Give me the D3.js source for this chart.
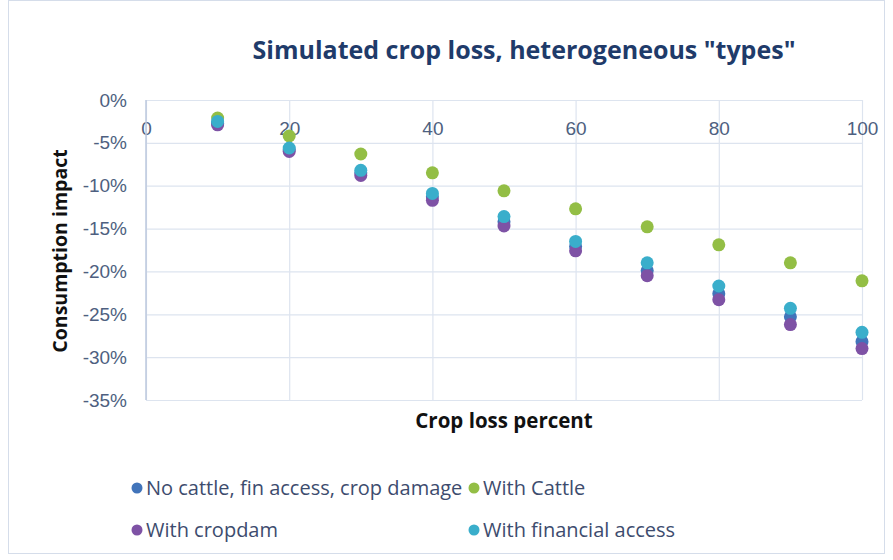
<!DOCTYPE html>
<html>
<head>
<meta charset="utf-8">
<script src="https://cdn.jsdelivr.net/npm/d3@7"></script>
<style>
  html, body { margin: 0; padding: 0; background: #fff; }
  svg { display: block; font-family: "Open Sans", Lato, sans-serif; }
</style>
</head>
<body>
<svg id="chart" width="893" height="560"></svg>
<script>
// Crop loss levels (percent) on the horizontal axis
const cropLoss = [10, 20, 30, 40, 50, 60, 70, 80, 90, 100];

// Simulated consumption impact (fraction) for each household type
const noCattle    = [-0.027, -0.058, -0.085, -0.113, -0.142, -0.171, -0.199, -0.226, -0.253, -0.282];
const withCattle  = [-0.021, -0.042, -0.063, -0.085, -0.106, -0.127, -0.148, -0.169, -0.190, -0.211];
const withCropdam = [-0.029, -0.060, -0.088, -0.117, -0.147, -0.176, -0.205, -0.233, -0.262, -0.290];
const withFinance = [-0.025, -0.056, -0.082, -0.109, -0.136, -0.165, -0.190, -0.217, -0.243, -0.271];

const seriesNames = ["No cattle, fin access, crop damage", "With Cattle", "With cropdam", "With financial access"];
const seriesColors = ["#4174BA", "#93BE45", "#7E52A5", "#3AAECB"];

const xTicks = [0, 20, 40, 60, 80, 100];
const yTicks = [0, -0.05, -0.10, -0.15, -0.20, -0.25, -0.30, -0.35];

const series = [noCattle, withCattle, withCropdam, withFinance].map((vals, i) => ({
  name: seriesNames[i],
  color: seriesColors[i],
  points: cropLoss.map((x, j) => ({ x, y: vals[j] }))
}));

const svg = d3.select("#chart");
const W = 893, H = 560;
const plot = { left: 146, right: 862, top: 100, bottom: 400 };

// Chart frame
svg.append("rect")
  .attr("x", 8.5).attr("y", 0.5)
  .attr("width", W - 17).attr("height", 553)
  .attr("fill", "#fff").attr("stroke", "#D5DDEA").attr("stroke-width", 1);

const x = d3.scaleLinear().domain([0, 100]).range([plot.left, plot.right]);
const y = d3.scaleLinear().domain([0, -0.35]).range([plot.top, plot.bottom]);

const tickColor = "#4E5F80";

// Horizontal gridlines with percent labels
const yAxis = d3.axisLeft(y)
  .tickValues(yTicks)
  .tickSize(-(plot.right - plot.left))
  .tickPadding(19)
  .tickFormat(d => d3.format(".0%")(d).replace("−", "-"));
const gy = svg.append("g").attr("transform", `translate(${plot.left},0)`).call(yAxis);
gy.select(".domain").remove();
gy.selectAll(".tick line").attr("stroke", "#DDE4EF").attr("stroke-width", 1.2);
gy.selectAll(".tick text")
  .attr("fill", tickColor)
  .style("font-size", "19px");

// Vertical gridlines, labels sit just under the zero line
const xAxis = d3.axisBottom(x)
  .tickValues(xTicks)
  .tickSize(plot.bottom - plot.top)
  .tickPadding(-(plot.bottom - plot.top) + 22)
  .tickFormat(d3.format("d"));
const gx = svg.append("g").attr("transform", `translate(0,${plot.top})`).call(xAxis);
gx.select(".domain").remove();
gx.selectAll(".tick line").attr("stroke", "#DDE4EF").attr("stroke-width", 1.2);
gx.selectAll(".tick text")
  .attr("fill", tickColor)
  .style("font-size", "19px");

// Vertical axis line at zero crop loss
svg.append("line")
  .attr("x1", x(0)).attr("x2", x(0))
  .attr("y1", plot.top).attr("y2", plot.bottom)
  .attr("stroke", "#BCC9DE").attr("stroke-width", 1.5);

// Scatter markers, drawn in series order
series.forEach(s => {
  svg.append("g").selectAll("circle")
    .data(s.points)
    .join("circle")
    .attr("cx", d => x(d.x))
    .attr("cy", d => y(d.y))
    .attr("r", 6.5)
    .attr("fill", s.color);
});

// Title
svg.append("text")
  .attr("x", 524).attr("y", 59)
  .attr("text-anchor", "middle")
  .attr("fill", "#1F3B6A")
  .style("font-size", "25px").style("font-weight", "bold")
  .text('Simulated crop loss, heterogeneous "types"');

// Axis titles
svg.append("text")
  .attr("x", 504).attr("y", 428)
  .attr("text-anchor", "middle")
  .attr("fill", "#111")
  .style("font-size", "20.5px").style("font-weight", "bold")
  .text("Crop loss percent");

svg.append("text")
  .attr("transform", "translate(67,251) rotate(-90)")
  .attr("text-anchor", "middle")
  .attr("fill", "#111")
  .style("font-size", "19.5px").style("font-weight", "bold")
  .text("Consumption impact");

// Legend in two rows
const legendPos = [
  { x: 137, y: 488 }, { x: 474, y: 488 },
  { x: 137, y: 530 }, { x: 474, y: 530 }
];
const legend = svg.append("g").selectAll("g")
  .data(series)
  .join("g")
  .attr("transform", (d, i) => `translate(${legendPos[i].x},${legendPos[i].y})`);
legend.append("circle").attr("r", 5.5).attr("fill", d => d.color);
legend.append("text")
  .attr("x", 9).attr("dy", "0.35em")
  .attr("fill", "#3D4C6E")
  .style("font-size", "20px")
  .text(d => d.name);
</script>
</body>
</html>
